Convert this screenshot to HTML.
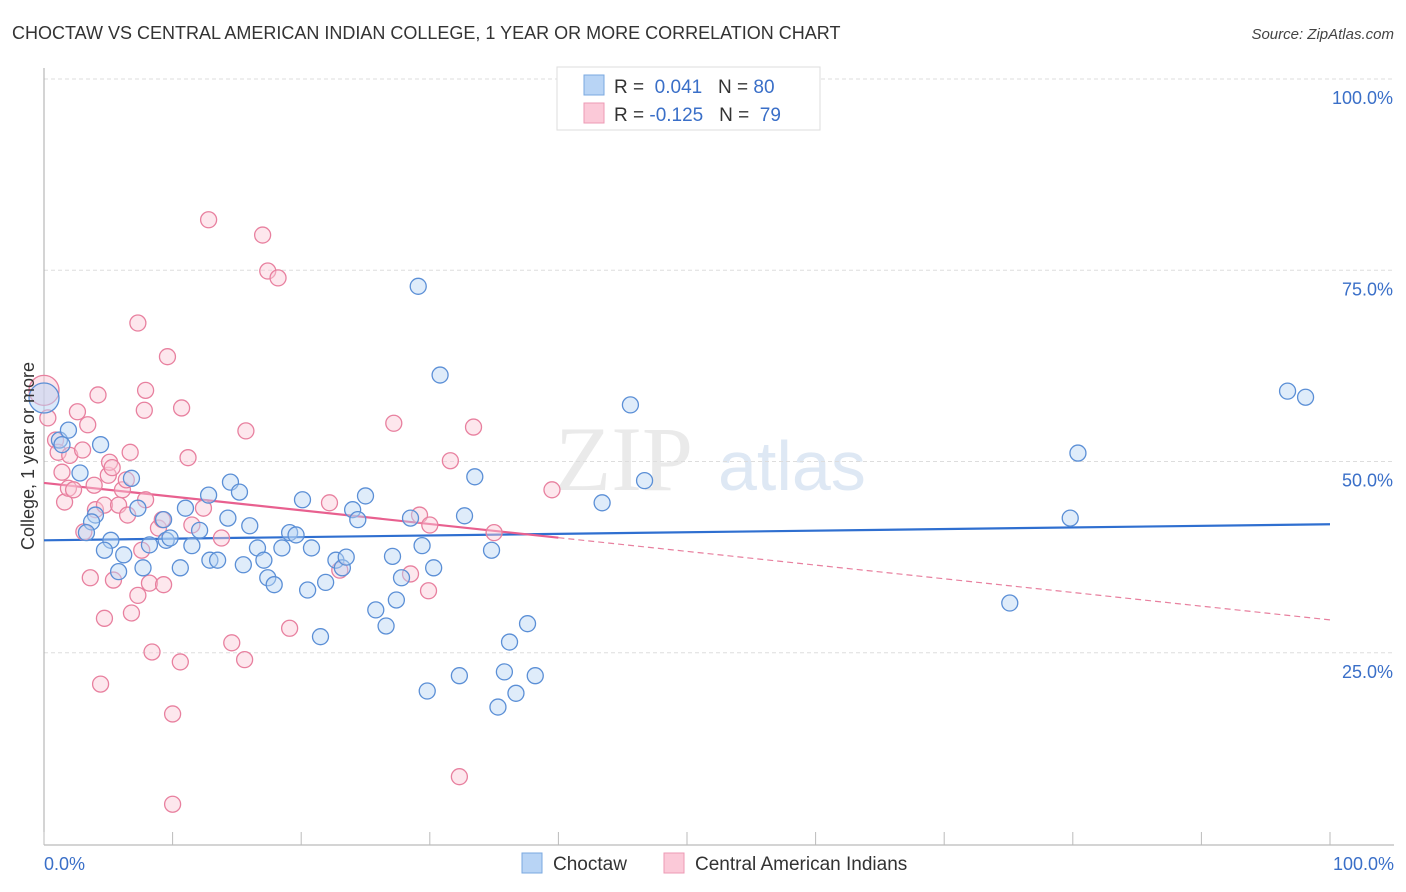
<!DOCTYPE html>
<html><head><meta charset="utf-8"><style>
body{margin:0;background:#fff;font-family:"Liberation Sans",sans-serif}
svg{display:block}
</style></head><body>
<svg id="chart" width="1406" height="892" viewBox="0 0 1406 892">
<text x="12" y="39" font-size="18" fill="#333">CHOCTAW VS CENTRAL AMERICAN INDIAN COLLEGE, 1 YEAR OR MORE CORRELATION CHART</text>
<text x="1394" y="39" font-size="15" fill="#444" font-style="italic" text-anchor="end">Source: ZipAtlas.com</text>
<g><text x="555" y="490" font-size="92" fill="#ddd" font-family="Liberation Serif,serif" opacity="0.6">ZIP</text><text x="718" y="490" font-size="70" fill="#c9d9ee" opacity="0.6">atlas</text></g>
<g id="grid"></g>
<g id="axes"></g>
<g id="lines"></g>
<g id="pts"></g>
<text transform="translate(34,456) rotate(-90)" font-size="18" fill="#333" text-anchor="middle">College, 1 year or more</text>
<g>
<rect x="557" y="67" width="263" height="63" fill="#fff" stroke="#ddd"/>
<rect x="584" y="75" width="20" height="20" fill="#b8d4f5" stroke="#7aa8e0"/>
<rect x="584" y="103" width="20" height="20" fill="#fbc9d8" stroke="#ec9ab4"/>
<text x="614" y="93" font-size="19" fill="#333">R = <tspan fill="#3a6fc8">&#160;0.041</tspan>&#160;&#160;&#160;N = <tspan fill="#3a6fc8">80</tspan></text>
<text x="614" y="121" font-size="19" fill="#333">R = <tspan fill="#3a6fc8">-0.125</tspan>&#160;&#160;&#160;N = <tspan fill="#3a6fc8">&#160;79</tspan></text>
</g>
<g>
<rect x="522" y="853" width="20" height="20" fill="#b8d4f5" stroke="#7aa8e0"/>
<text x="553" y="870" font-size="19" fill="#333">Choctaw</text>
<rect x="664" y="853" width="20" height="20" fill="#fbc9d8" stroke="#ec9ab4"/>
<text x="695" y="870" font-size="19" fill="#333">Central American Indians</text>
</g>
</svg>
<script>
const yTicks=[25,50,75,100];
const yTickLabels=["25.0%","50.0%","75.0%","100.0%"];
const xTicks=[0,10,20,30,40,50,60,70,80,90,100];
const blueTrend=[39.7,41.8];
const pinkTrend=[47.2,29.3];
const pinkSolidEnd=40;
const bluePx=[[44,398],[60,440],[68,430],[62,445],[100,445],[80,473],[96,515],[92,522],[87,533],[111,540],[104,550],[124,555],[118,572],[132,478],[138,508],[143,568],[150,545],[163,520],[166,540],[170,538],[180,568],[186,508],[192,546],[200,530],[208,495],[210,560],[218,560],[228,518],[230,482],[240,492],[243,565],[250,526],[257,548],[264,560],[268,578],[274,585],[282,548],[290,533],[296,535],[302,500],[308,590],[312,548],[320,637],[326,582],[336,560],[342,568],[346,557],[352,510],[358,520],[366,496],[376,610],[386,626],[392,556],[396,600],[402,578],[410,518],[418,286],[422,546],[427,691],[434,568],[440,375],[460,676],[464,516],[475,477],[492,550],[498,707],[504,672],[509,642],[516,693],[528,624],[535,676],[602,503],[630,405],[645,481],[1010,603],[1070,518],[1078,453],[1288,391],[1306,397]];
const pinkPx=[[44,390],[48,418],[55,440],[58,452],[62,472],[64,502],[68,488],[70,455],[74,490],[78,412],[82,450],[84,532],[88,425],[90,578],[94,485],[96,510],[98,395],[104,618],[100,684],[104,505],[108,475],[110,462],[112,468],[114,580],[118,505],[122,490],[126,480],[128,515],[130,452],[132,613],[138,595],[138,323],[142,550],[144,410],[146,390],[146,500],[150,583],[152,652],[158,528],[162,520],[164,585],[168,357],[172,714],[172,804],[180,662],[182,408],[188,458],[192,525],[204,508],[208,220],[222,538],[232,643],[244,660],[246,431],[262,235],[268,271],[278,278],[290,628],[330,503],[340,570],[394,423],[410,574],[420,515],[428,591],[430,525],[450,461],[460,777],[474,427],[494,533],[552,490]];
const blueX=bluePx.map(p=>+((p[0]-44)/12.86).toFixed(1));
const blueY=bluePx.map(p=>+((844-p[1])/7.65).toFixed(1));
const pinkX=pinkPx.map(p=>+((p[0]-44)/12.86).toFixed(1));
const pinkY=pinkPx.map(p=>+((844-p[1])/7.65).toFixed(1));
const X=v=>44+v*12.86, Y=v=>844-v*7.65;
const NS="http://www.w3.org/2000/svg";
function mk(parent,tag,attrs){const e=document.createElementNS(NS,tag);for(const k in attrs)e.setAttribute(k,attrs[k]);document.getElementById(parent).appendChild(e);return e;}
yTicks.forEach((t,i)=>{
 const l=mk('grid','line',{x1:44,x2:1394,y1:Y(t),y2:Y(t),stroke:'#ddd','stroke-dasharray':'4,3'});
 
 
 const tx=mk('grid','text',{x:1393,y:Y(t)+25,'font-size':18,fill:'#3a6fc8','text-anchor':'end'});
 
 
 tx.textContent=yTickLabels[i];
});
const ax=mk('axes','line',{x1:44,x2:1394,y1:845,y2:845,stroke:'#aaa'});


const ay=mk('axes','line',{x1:44,x2:44,y1:68,y2:845,stroke:'#aaa'});


xTicks.forEach(t=>{const l=mk('axes','line',{x1:X(t),x2:X(t),y1:845,y2:832,stroke:'#bbb'});
 
 });
const x0=mk('axes','text',{x:44,y:870,'font-size':18,fill:'#3a6fc8'});x0.textContent='0.0%';


const x1=mk('axes','text',{x:1394,y:870,'font-size':18,fill:'#3a6fc8','text-anchor':'end'});x1.textContent='100.0%';


function draw(xs,ys,fill,stroke,name){xs.forEach((x,i)=>{const big=(x<0.1);const c=mk('pts','circle',{cx:X(x),cy:Y(ys[i]),r:big?15:8,fill:fill,'fill-opacity':big?0.5:0.45,stroke:stroke,'stroke-width':1.3});
 
 });}
draw(pinkX,pinkY,'#fbc9d8','#e8809f','central-american-point');
draw(blueX,blueY,'#b8d4f5','#5b8fd6','choctaw-point');
const bl=mk('lines','line',{x1:X(0),y1:Y(blueTrend[0]),x2:X(100),y2:Y(blueTrend[1]),stroke:'#2f6fd0','stroke-width':2.2});


const pv=x=>pinkTrend[0]+(pinkTrend[1]-pinkTrend[0])*x/100;
const ps=mk('lines','line',{x1:X(0),y1:Y(pv(0)),x2:X(pinkSolidEnd),y2:Y(pv(pinkSolidEnd)),stroke:'#e8608f','stroke-width':2.2});


const pd=mk('lines','line',{x1:X(pinkSolidEnd),y1:Y(pv(pinkSolidEnd)),x2:X(100),y2:Y(pv(100)),stroke:'#e8809f','stroke-width':1.2,'stroke-dasharray':'6,4'});


</script>
</body></html>
